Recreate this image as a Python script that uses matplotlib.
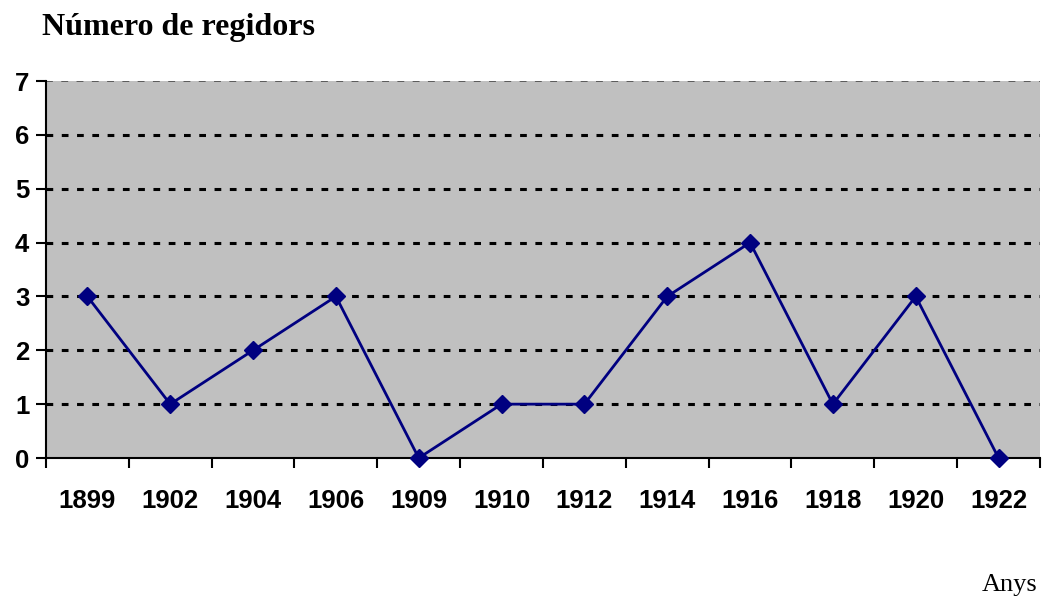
import matplotlib
matplotlib.use("Agg")
import matplotlib.pyplot as plt
import numpy as np

years = ["1899", "1902", "1904", "1906", "1909", "1910", "1912", "1914", "1916", "1918", "1920", "1922"]
regidors = [3, 1, 2, 3, 0, 1, 1, 3, 4, 1, 3, 0]
y_ticks = [0, 1, 2, 3, 4, 5, 6, 7]

fig = plt.figure(figsize=(10.45, 5.98), dpi=100)
ax = fig.add_axes([0.0440, 0.2341, 0.9512, 0.6304])
ax.set_facecolor("#C0C0C0")

x = np.arange(len(years))
ax.plot(x, regidors, color="#000080", linewidth=2.0, marker="D", markersize=9,
        markerfacecolor="#000080", markeredgecolor="#000080", zorder=3, clip_on=False)

ax.set_xlim(-0.5, len(years) - 0.5)
ax.set_ylim(0, 7)
ax.set_yticks(y_ticks)
ax.set_yticklabels([str(v) for v in y_ticks], fontfamily="Liberation Sans", fontweight="bold", fontsize=18.5)
for v in y_ticks[1:-1]:
    ax.axhline(v, color="black", linestyle=(0, (2.2, 2.8)), linewidth=2.2, zorder=1)
ax.axhline(y_ticks[-1], color="#404040", linestyle=(0, (4.5, 5.5)), linewidth=1.1, zorder=1)

# category ticks at boundaries, labels at centers
ax.set_xticks(np.arange(-0.5, len(years), 1.0))
ax.set_xticklabels([])
ax.set_xticks(x, minor=True)
ax.set_xticklabels(years, minor=True, fontfamily="Liberation Sans", fontweight="bold", fontsize=18.5)
ax.tick_params(axis="x", which="minor", length=0, pad=22)
ax.tick_params(axis="x", which="major", length=7, width=1.5, direction="out")
ax.tick_params(axis="y", length=7, width=1.5, direction="out", pad=5)

for s in ["top", "right"]:
    ax.spines[s].set_visible(False)
ax.spines["left"].set_linewidth(1.5)
ax.spines["bottom"].set_linewidth(1.5)

fig.text(42 / 1045, 1 - 27 / 598, "Número de regidors", fontfamily="Liberation Serif",
         fontweight="bold", fontsize=23, ha="left", va="center")
fig.text(1037 / 1045, 1 - 585 / 598, "Anys", fontfamily="Liberation Serif",
         fontsize=19, ha="right", va="center")

fig.savefig("out.png", dpi=100)
